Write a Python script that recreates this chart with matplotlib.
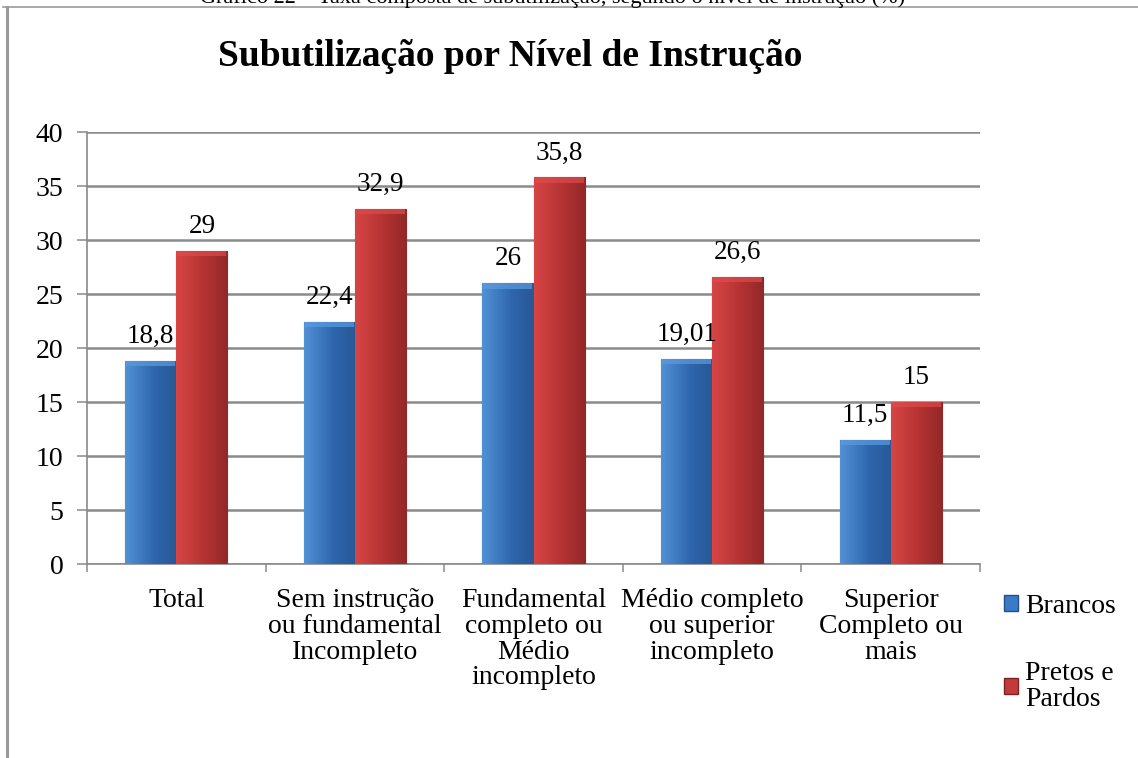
import numpy as np
import matplotlib
matplotlib.use("Agg")
import matplotlib.pyplot as plt
from matplotlib.patches import Patch
from matplotlib.colors import LinearSegmentedColormap

plt.rcParams['font.family'] = ['Liberation Serif', 'DejaVu Serif']

# dados
categorias = ['Total', 'Sem instrução\nou fundamental\nIncompleto',
              'Fundamental\ncompleto ou\nMédio\nincompleto',
              'Médio completo\nou superior\nincompleto',
              'Superior\nCompleto ou\nmais']
brancos = [18.8, 22.4, 26, 19.01, 11.5]
pretos_pardos = [29, 32.9, 35.8, 26.6, 15]
rotulos_brancos = ['18,8', '22,4', '26', '19,01', '11,5']
rotulos_pretos = ['29', '32,9', '35,8', '26,6', '15']
series = ['Brancos', 'Pretos e\nPardos']

W, H = 1138, 758
fig = plt.figure(figsize=(W / 100, H / 100), dpi=100)

# moldura do gráfico (cortada no topo, como no original)
fig.add_artist(plt.Line2D([7 / W, 7 / W], [0, 1 - 7 / H], color='#9a9a9a', lw=2.2,
                          transform=fig.transFigure))
fig.add_artist(plt.Line2D([3 / W, 1], [1 - 7 / H, 1 - 7 / H], color='#9a9a9a', lw=1.2,
                          transform=fig.transFigure))

# legenda do documento, quase fora da imagem
fig.text(553 / W, 1 - 3 / H,
         'Gráfico 22 – Taxa composta de subutilização, segundo o nível de instrução (%)',
         ha='center', va='baseline', fontsize=16)

ax = fig.add_axes([87 / W, 1 - 564 / H, (980 - 87) / W, (564 - 132) / H])

x = np.arange(len(categorias))
larg = 0.286
cores = {'b': ('#5b9be0', '#2e66ad', '#244f86'), 'r': ('#e04a4a', '#b33232', '#7d2222')}


def barras(xs, vals, c):
    light, dark, edge = c
    bs = ax.bar(xs, vals, larg, color=dark, edgecolor=edge, linewidth=0.8, zorder=3)
    cmap = LinearSegmentedColormap.from_list('g', [light, dark, edge])
    grad = np.linspace(0.1, 0.8, 64).reshape(1, -1)
    for b in bs:
        x0, y0 = b.get_x(), b.get_y()
        im = ax.imshow(grad, extent=(x0, x0 + b.get_width(), y0, y0 + b.get_height()),
                       cmap=cmap, vmin=0, vmax=1, aspect='auto', zorder=3.5)
        im.set_clip_path(b)
        # chanfro superior claro
        h = b.get_height()
        ax.bar(x0 + b.get_width() / 2, 0.5, b.get_width() * 0.96, bottom=y0 + h - 0.5,
               color=light, alpha=0.7, linewidth=0, zorder=4)
    return bs


bb = barras(x - larg / 2, brancos, cores['b'])
br = barras(x + larg / 2, pretos_pardos, cores['r'])

for xi, v, t in zip(x - larg / 2, brancos, rotulos_brancos):
    ax.text(xi, v + 1.1, t, ha='center', va='bottom', fontsize=19.5, zorder=5)
for xi, v, t in zip(x + larg / 2, pretos_pardos, rotulos_pretos):
    ax.text(xi, v + 1.1, t, ha='center', va='bottom', fontsize=19.5, zorder=5)

ax.set_xlim(-0.5, len(categorias) - 0.5)
ax.set_ylim(0, 40)
ax.set_yticks(range(0, 41, 5))
ax.set_xticks(x)
ax.set_xticklabels(categorias, fontsize=20, linespacing=1.05)
ax.set_xticks(np.arange(-0.5, len(categorias)), minor=True)
ax.tick_params(axis='x', which='major', length=0, pad=17)
ax.tick_params(axis='x', which='minor', length=6, color='#8a8a8a', width=1.1)
ax.tick_params(axis='y', length=7, color='#8a8a8a', width=1.1, pad=10, labelsize=20)
ax.grid(axis='y', color='#8a8a8a', lw=1.8, zorder=0)
ax.set_axisbelow(True)
for s in ['top', 'right']:
    ax.spines[s].set_visible(False)
for s in ['left', 'bottom']:
    ax.spines[s].set_color('#8a8a8a')
    ax.spines[s].set_linewidth(1.2)

fig.text(510 / W, 1 - 57 / H, 'Subutilização por Nível de Instrução',
         ha='center', va='center', fontsize=27, fontweight='bold')

handles = [Patch(facecolor='#3a7bc8', edgecolor='#244f86'),
           Patch(facecolor='#c23a3a', edgecolor='#7d2222')]
leg = fig.legend(handles, series, loc='upper left', bbox_to_anchor=(1004 / W, 1 - 594 / H),
                 frameon=False, fontsize=20, handlelength=0.5, handleheight=0.5,
                 handletextpad=0.25, labelspacing=1.5, borderpad=0, borderaxespad=0)
for t in leg.get_texts():
    t.set_linespacing(1.05)

fig.savefig('out.png', dpi=100)
